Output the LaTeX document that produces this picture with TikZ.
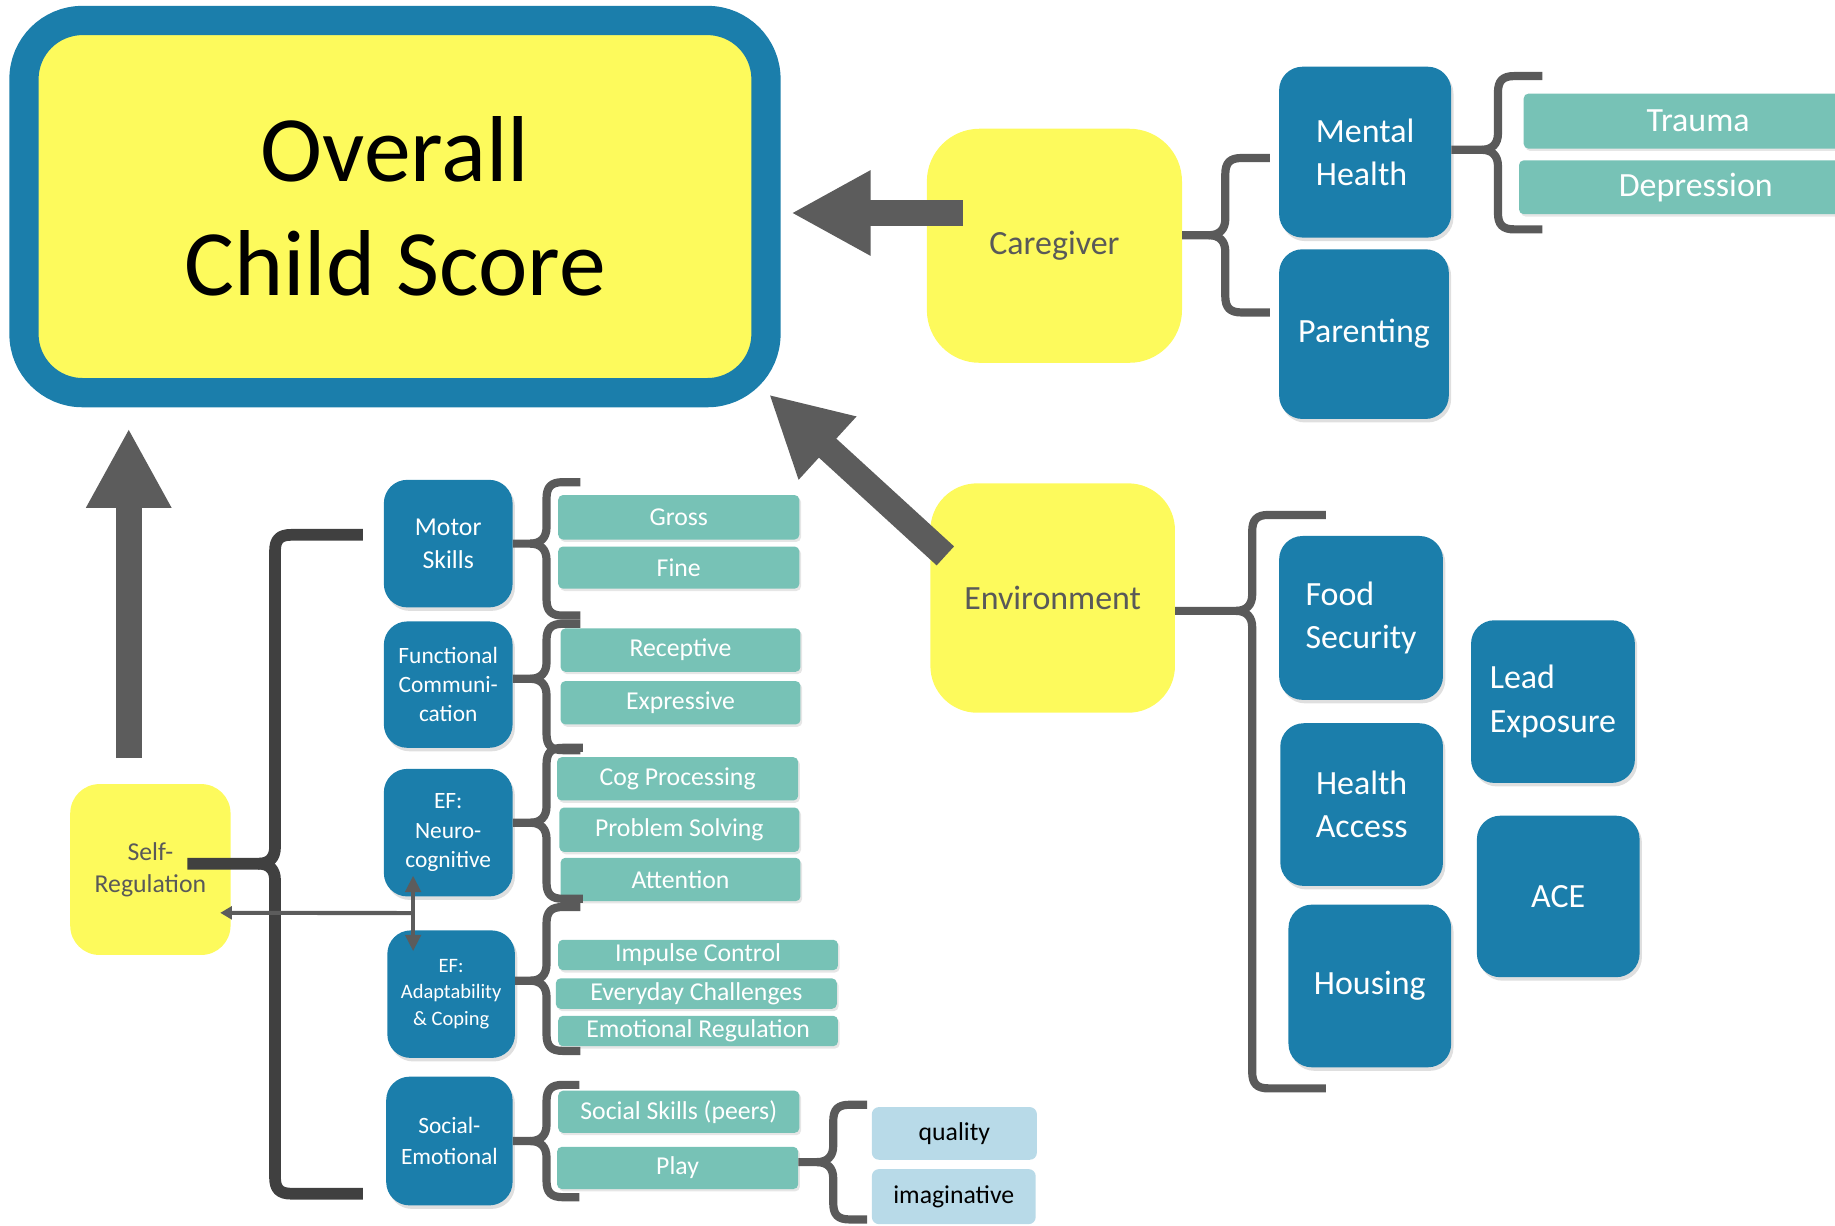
\documentclass[tikz,border=0pt]{standalone}
\usepackage{fontspec}
\setmainfont{Carlito}
\usetikzlibrary{arrows.meta,shadows}

\definecolor{chartblue}{HTML}{1B7EAB}
\definecolor{boxyellow}{HTML}{FDFA5C}
\definecolor{mint}{HTML}{77C2B6}
\definecolor{paleblue}{HTML}{B8DAE8}
\definecolor{arrowgray}{HTML}{5C5C5C}
\definecolor{labelgray}{HTML}{595959}
\definecolor{bracegray}{HTML}{5A5A5A}
\definecolor{darkbrace}{HTML}{404040}

% #1 style, #2 start, #3 tip y, #4 bar x, #5 top y, #6 bottom y, #7 arm end x
\newcommand{\groupbrace}[7]{%
\draw[#1] (#2) -- ({#4-14},#3) .. controls ({#4-5},#3) and (#4,{#3-5}) .. (#4,{#3-14})
  -- (#4,{#5+14}) .. controls (#4,{#5+4}) and ({#4+4},#5) .. ({#4+14},#5) -- (#7,#5);
\draw[#1] ({#4-14},#3) .. controls ({#4-5},#3) and (#4,{#3+5}) .. (#4,{#3+14})
  -- (#4,{#6-14}) .. controls (#4,{#6-4}) and ({#4+4},#6) .. ({#4+14},#6) -- (#7,#6);
}

\begin{document}
\begin{tikzpicture}[x=1pt, y=-1pt,
  outerbox/.style={draw=chartblue, line width=25pt, fill=boxyellow, rounded corners=50pt,
    minimum width=634pt, minimum height=318pt, align=center, font=\fontsize{80}{97}\selectfont},
  hub/.style={fill=boxyellow, text=labelgray, align=center, inner sep=0pt,
    font=\fontsize{29}{35}\selectfont},
  areabox/.style={fill=chartblue, text=white, rounded corners=20pt, inner sep=0pt,
    drop shadow={shadow xshift=2pt, shadow yshift=-3pt, opacity=0.25}},
  bigarea/.style={areabox, font=\fontsize{29}{37}\selectfont},
  smallarea/.style={areabox, align=center, minimum width=110pt, minimum height=109pt,
    font=\fontsize{20}{25}\selectfont},
  sub/.style={fill=mint, text=white, rounded corners=4pt, inner sep=0pt,
    drop shadow={shadow xshift=1.5pt, shadow yshift=-2pt, opacity=0.2},
    font=\fontsize{22}{26}\selectfont},
  leaf/.style={fill=paleblue, text=black, rounded corners=6pt, inner sep=0pt,
    minimum width=141pt, font=\fontsize{22}{26}\selectfont},
  bracket/.style={draw=bracegray, line width=7pt, line join=round},
  bigarrow/.style={draw=arrowgray, line width=22pt, -{Triangle[width=68pt,length=68pt]}},
  thinarrow/.style={draw=arrowgray, line width=3.5pt}]

\useasboundingbox (0,0) rectangle (1568,1047);
\clip (0,0) rectangle (1568,1047);

\node[outerbox] (overall) at (337.5,176.5) {Overall\\Child Score};

% caregiver side
\node[hub, minimum width=218pt, minimum height=200pt, rounded corners=45pt] (caregiver) at (901,210) {Caregiver};
\node[bigarea, align=left, minimum width=147pt, minimum height=146pt] (mental) at (1166.5,130) {Mental\\Health};
\node[bigarea, minimum width=145pt, minimum height=145pt] (parenting) at (1165.5,285.5) {Parenting};
\node[sub, minimum width=298pt, minimum height=47pt, font=\fontsize{29}{35}\selectfont] (trauma) at (1451,103.5) {Trauma};
\node[sub, minimum width=302pt, minimum height=46pt, font=\fontsize{29}{35}\selectfont] (depression) at (1449,160) {Depression};

% environment side
\node[hub, minimum width=209pt, minimum height=196pt, rounded corners=40pt] (environment) at (899.5,511) {Environment};
\node[bigarea, align=left, minimum width=140pt, minimum height=140pt] (food) at (1163,528) {Food\\Security};
\node[bigarea, align=center, minimum width=139pt, minimum height=139pt] (health) at (1163.5,687.5) {Health\\Access};
\node[bigarea, minimum width=139pt, minimum height=139pt] (housing) at (1170.5,842.5) {Housing};
\node[bigarea, align=left, minimum width=140pt, minimum height=139pt] (lead) at (1327,599.5) {Lead\\Exposure};
\node[bigarea, minimum width=139pt, minimum height=138pt] (ace) at (1331.5,766) {ACE};

% self-regulation side
\node[hub, minimum width=137pt, minimum height=146pt, rounded corners=25pt,
  font=\fontsize{22}{27}\selectfont] (selfreg) at (128.5,743) {Self-\\Regulation};
\node[smallarea, font=\fontsize{22}{28}\selectfont] (motor) at (383,464.5) {Motor\\Skills};
\node[smallarea, minimum height=108pt] (func) at (383,585) {Functional\\Communi-\\cation};
\node[smallarea] (neuro) at (383,711.5) {EF:\\Neuro-\\cognitive};
\node[smallarea, minimum width=109pt, font=\fontsize{17.5}{23}\selectfont] (adapt) at (385.5,849.5) {EF:\\Adaptability\\\& Coping};
\node[smallarea, minimum width=108pt, minimum height=110pt, font=\fontsize{20}{26}\selectfont] (social) at (384,975) {Social-\\Emotional};

\node[sub, minimum width=206pt, minimum height=38pt] (gross) at (580,442) {Gross};
\node[sub, minimum width=206pt, minimum height=36pt] (fine) at (580,485) {Fine};
\node[sub, minimum width=205pt, minimum height=37pt] (receptive) at (581.5,555.5) {Receptive};
\node[sub, minimum width=205pt, minimum height=37pt] (expressive) at (581.5,600.5) {Expressive};
\node[sub, minimum width=206pt, minimum height=37pt] (cogproc) at (579,665.5) {Cog Processing};
\node[sub, minimum width=205pt, minimum height=38pt] (problem) at (580.5,709) {Problem Solving};
\node[sub, minimum width=205pt, minimum height=37pt] (attention) at (581.5,751.5) {Attention};
\node[sub, minimum width=239pt, minimum height=26pt] (impulse) at (596.5,816) {Impulse Control};
\node[sub, minimum width=240pt, minimum height=26pt] (everyday) at (595,849) {Everyday Challenges};
\node[sub, minimum width=239pt, minimum height=26pt] (emoreg) at (596.5,881) {Emotional Regulation};
\node[sub, minimum width=206pt, minimum height=36pt] (socskills) at (580,950) {Social Skills (peers)};
\node[sub, minimum width=206pt, minimum height=36pt] (play) at (579,998) {Play};
\node[leaf, minimum height=45pt] (quality) at (815.5,968.5) {quality};
\node[leaf, minimum width=140pt, minimum height=47pt] (imaginative) at (815,1022.5) {imaginative};

% braces
\groupbrace{bracket}{[yshift=9pt]caregiver.east}{201}{1047}{135}{267}{1085}
\groupbrace{bracket}{[yshift=2pt]mental.east}{128}{1280}{65}{196}{1318}
\groupbrace{bracket}{[yshift=-11pt]environment.east}{522}{1070}{440}{930}{1133}
\groupbrace{bracket, draw=darkbrace, line width=10pt}{[xshift=-37pt,yshift=5pt]selfreg.east}{738}{235}{457}{1020}{310}
\groupbrace{bracket}{motor.east}{464.5}{467}{412}{526}{496}
\groupbrace{bracket}{[yshift=5pt]func.east}{580}{467}{533}{641}{496}
\groupbrace{bracket}{[yshift=8.5pt]neuro.east}{703}{467}{639}{768}{498}
\groupbrace{bracket}{[yshift=11.5pt]adapt.east}{838}{467}{775}{898}{496}
\groupbrace{bracket}{social.east}{975}{467}{927}{1023}{495}
\groupbrace{bracket}{[yshift=5pt]play.east}{993}{712}{944}{1042}{741}

% arrows into the overall score
\draw[bigarrow] ([xshift=31pt,yshift=28pt]caregiver.west) -- ([xshift=9pt,yshift=-5.5pt]overall.east);
\draw[bigarrow] ([xshift=13pt,yshift=36pt]environment.west) -- ([xshift=-10pt,yshift=11pt]overall.south east);
\draw[bigarrow] ([xshift=-18.5pt,yshift=22pt]selfreg.north) -- ([xshift=-227.5pt,yshift=-18pt]overall.south);

% link between the two EF boxes
\draw[thinarrow, line width=4pt, {Triangle[width=13pt,length=14pt]}-{Triangle[width=13pt,length=14pt]}]
  ([xshift=-30pt,yshift=18pt]neuro.south) -- ([xshift=-32.5pt,yshift=-18pt]adapt.north);
\draw[thinarrow, -{Triangle[width=11pt,length=10pt]}]
  ([xshift=-30pt,yshift=-14pt]neuro.south) -- ([xshift=-9pt,yshift=-37pt]selfreg.east);
\end{tikzpicture}
\end{document}
